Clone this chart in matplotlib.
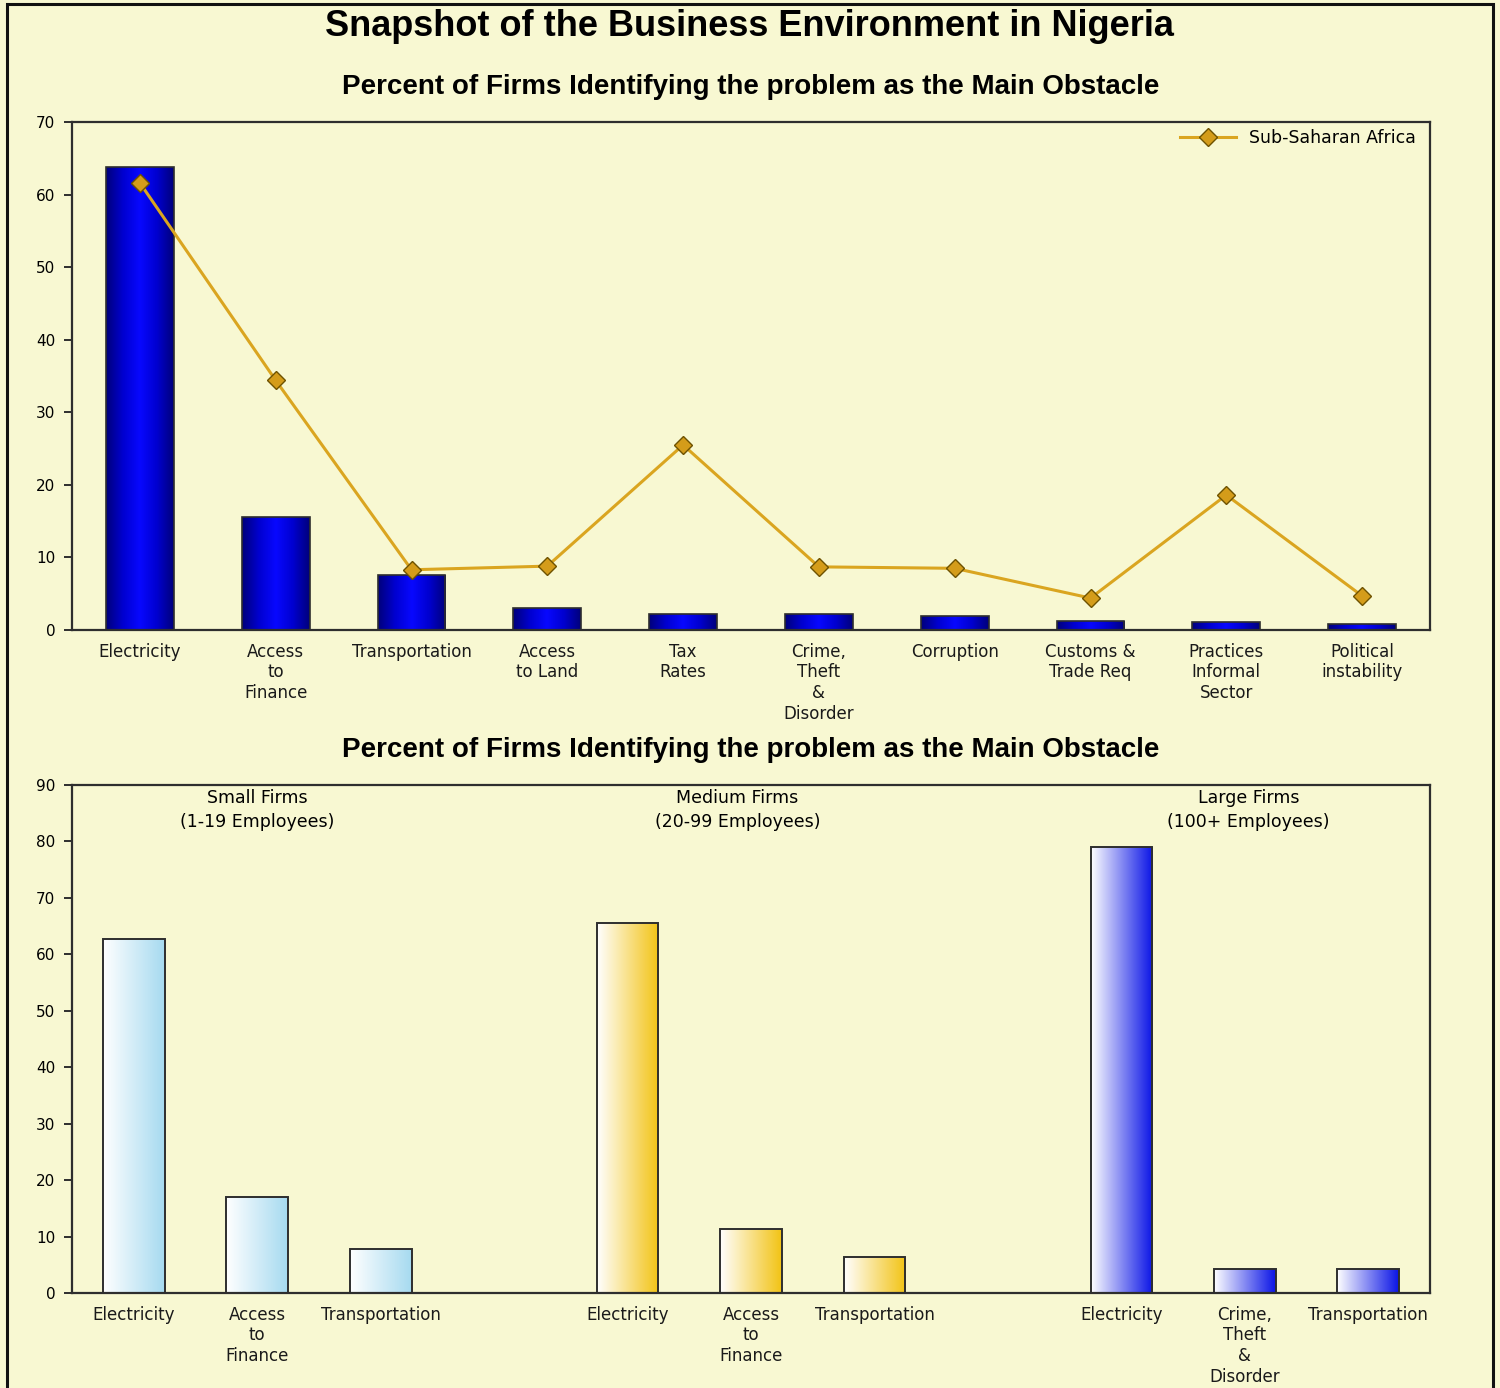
import numpy as np
import matplotlib
matplotlib.use("Agg")
import matplotlib.pyplot as plt
from matplotlib.patches import Rectangle
from matplotlib.colors import LinearSegmentedColormap

# ── Data ────────────────────────────────────────────────────────────────
obstacles = ["Electricity", "Access\nto\nFinance", "Transportation",
             "Access\nto Land", "Tax\nRates", "Crime,\nTheft\n&\nDisorder",
             "Corruption", "Customs &\nTrade Req", "Practices\nInformal\nSector",
             "Political\ninstability"]
nigeria = [63.8, 15.6, 7.6, 3.0, 2.2, 2.2, 1.9, 1.3, 1.1, 0.8]
ssa = [61.6, 34.4, 8.3, 8.8, 25.5, 8.7, 8.5, 4.4, 18.6, 4.7]

groups = ["Small Firms\n(1-19 Employees)", "Medium Firms\n(20-99 Employees)",
          "Large Firms\n(100+ Employees)"]
small_cats = ["Electricity", "Access\nto\nFinance", "Transportation"]
small_vals = [62.8, 17.0, 7.8]
medium_cats = ["Electricity", "Access\nto\nFinance", "Transportation"]
medium_vals = [65.6, 11.3, 6.4]
large_cats = ["Electricity", "Crime,\nTheft\n&\nDisorder", "Transportation"]
large_vals = [79.0, 4.3, 4.3]

# ── Style ───────────────────────────────────────────────────────────────
BG = "#F8F8D2"
EDGE = "#2E2E2E"
GOLD = "#DAA520"
plt.rcParams["font.family"] = ["DejaVu Sans"]

cm_top = LinearSegmentedColormap.from_list(
    "cyl", ["#00007A", "#0000D0", "#0808FF", "#0000D0", "#00007A"])
cm_small = LinearSegmentedColormap.from_list("s", ["#FFFFFF", "#A6DAF0"])
cm_medium = LinearSegmentedColormap.from_list("m", ["#FFFFFF", "#F2C314"])
cm_large = LinearSegmentedColormap.from_list("l", ["#FFFFFF", "#0A14E6"])


def gradient_bars(ax, bars, cmap):
    grad = np.linspace(0, 1, 256).reshape(1, -1)
    for b in bars:
        x0, y0 = b.get_x(), b.get_y()
        w, h = b.get_width(), b.get_height()
        im = ax.imshow(grad, cmap=cmap, aspect="auto",
                       extent=(x0, x0 + w, y0, y0 + h), zorder=2)
        im.set_clip_path(b)
        b.set_facecolor("none")
        b.set_zorder(3)


def style_axes(ax):
    ax.set_facecolor(BG)
    for s in ax.spines.values():
        s.set_color(EDGE)
        s.set_linewidth(1.6)
    ax.tick_params(axis="y", direction="out", length=6, width=1.4,
                   color=EDGE, labelsize=11, pad=6)
    ax.tick_params(axis="x", length=0, labelsize=12, pad=9, colors="#1A1A1A")


fig = plt.figure(figsize=(15, 13.88), dpi=100)
fig.patch.set_facecolor(BG)
fig.add_artist(Rectangle((7 / 1500, -0.01), 1486 / 1500, 1.01 - 4 / 1388,
                         transform=fig.transFigure, fill=False,
                         edgecolor="#111111", linewidth=2.2))

fig.text(0.4995, 1 - 26 / 1388, "Snapshot of the Business Environment in Nigeria",
         ha="center", va="center", fontsize=26, fontweight="bold",
         family="Liberation Sans")

SUB = "Percent of Firms Identifying the problem as the Main Obstacle"

# ── Top chart ───────────────────────────────────────────────────────────
ax1 = fig.add_axes([72 / 1500, 1 - 630 / 1388, 1358 / 1500, 508 / 1388])
style_axes(ax1)
x1 = np.arange(len(obstacles))
bars = ax1.bar(x1, nigeria, width=0.5, edgecolor=EDGE, linewidth=1.2)
ax1.set_xlim(-0.5, len(obstacles) - 0.5)
ax1.set_ylim(0, 70)
gradient_bars(ax1, bars, cm_top)
ax1.plot(x1, ssa, color=GOLD, lw=2.2, marker="D", markersize=9,
         markerfacecolor="#D49C1A", markeredgecolor="#6E5200",
         markeredgewidth=1.0, zorder=5, label="Sub-Saharan Africa")
ax1.set_yticks(range(0, 71, 10))
ax1.set_xticks(x1)
ax1.set_xticklabels(obstacles, linespacing=1.2)
ax1.legend(loc="upper right", frameon=False, fontsize=12.5, handlelength=3.2,
           borderaxespad=0.0, bbox_to_anchor=(0.995, 1.0))
ax1.set_title(SUB, fontsize=20, fontweight="bold", family="Liberation Sans",
              pad=20)

# ── Bottom chart ────────────────────────────────────────────────────────
ax2 = fig.add_axes([72 / 1500, 1 - 1293 / 1388, 1358 / 1500, 508 / 1388])
style_axes(ax2)
pos = [np.arange(3) + 4 * g for g in range(3)]
for p, vals, cmap in zip(pos, [small_vals, medium_vals, large_vals],
                         [cm_small, cm_medium, cm_large]):
    b = ax2.bar(p, vals, width=0.5, edgecolor=EDGE, linewidth=1.4)
    gradient_bars(ax2, b, cmap)
ax2.set_xlim(-0.5, 10.5)
ax2.set_ylim(0, 90)
ax2.set_yticks(range(0, 91, 10))
ax2.set_xticks(np.concatenate(pos))
ax2.set_xticklabels(small_cats + medium_cats + large_cats, linespacing=1.2)
for gx, label in zip([1.0, 4.89, 9.03], groups):
    ax2.text(gx, 89.3, label, ha="center", va="top",
             fontsize=12.5, linespacing=1.45)
ax2.set_title(SUB, fontsize=20, fontweight="bold", family="Liberation Sans",
              pad=20)

fig.savefig("out.png", dpi=100, facecolor=BG)
